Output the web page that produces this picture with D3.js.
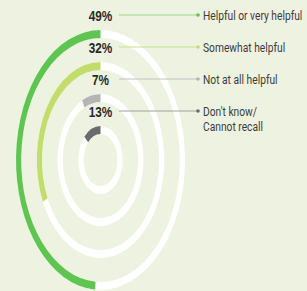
<!DOCTYPE html>
<html>
<head>
<meta charset="utf-8">
<script src="https://cdn.jsdelivr.net/npm/d3@7"></script>
<style>
  body { margin: 0; background: #edf3e0; }
  svg { display: block; }
</style>
</head>
<body>
<script>
// data
const categories = ['Helpful or very helpful', 'Somewhat helpful', 'Not at all helpful', "Don't know/\nCannot recall"];
const values = [49, 32, 7, 13];
const colors = ['#5ec550', '#c3dc6c', '#b5b5b5', '#6b6b6b'];
const lineColors = ['#9ed68e', '#c9df86', '#c2c2c2', '#a0a0a0'];

const width = 307, height = 291;
const cx = 100.5, cy = 160;
const sx = 0.65; // rings are squashed horizontally
const condense = 0.76; // the original type is a condensed face

const svg = d3.select('body').append('svg')
  .attr('width', width)
  .attr('height', height);

svg.append('rect').attr('width', width).attr('height', height).attr('fill', '#edf3e0');

const r = d3.scaleLinear()
  .domain([0, categories.length - 1])
  .range([126, 30]);

const pct = d3.scaleLinear().domain([0, 100]).range([0, 2 * Math.PI]);

const rings = svg.append('g')
  .attr('transform', `translate(${cx},${cy}) scale(${sx},1)`);

const arc = d3.arc()
  .innerRadius(d => r(d.i) - 4)
  .outerRadius(d => r(d.i) + 4);

const data = values.map((v, i) => ({i, v}));

rings.selectAll('path.bg')
  .data(data)
  .enter().append('path')
  .attr('class', 'bg')
  .attr('fill', '#ffffff')
  .attr('d', d => arc({i: d.i, startAngle: 0, endAngle: 2 * Math.PI}));

rings.selectAll('path.fg')
  .data(data)
  .enter().append('path')
  .attr('class', 'fg')
  .attr('fill', d => colors[d.i])
  .attr('d', d => arc({i: d.i, startAngle: -pct(d.v), endAngle: 0}));

// percentage labels + leader lines
const labelY = d => cy - r(d.i) - 18;

svg.selectAll('line.lead')
  .data(data)
  .enter().append('line')
  .attr('x1', 119).attr('x2', 197)
  .attr('y1', d => labelY(d) - 1)
  .attr('y2', d => labelY(d) - 1)
  .attr('stroke', d => lineColors[d.i])
  .attr('stroke-width', 1);

svg.selectAll('circle.dot')
  .data(data)
  .enter().append('circle')
  .attr('cx', 198).attr('cy', d => labelY(d) - 1)
  .attr('r', 1.8)
  .attr('fill', d => colors[d.i]);

svg.selectAll('text.pct')
  .data(data)
  .enter().append('text')
  .attr('transform', d => `translate(${cx},${labelY(d) + 5}) scale(${condense},1)`)
  .attr('text-anchor', 'middle')
  .style('font-family', '"Liberation Sans", Arial, sans-serif')
  .style('font-size', '15.5px')
  .style('font-weight', 'bold')
  .style('fill', '#2a2a2a')
  .text(d => d.v + '%');

const legend = svg.selectAll('text.leg')
  .data(data)
  .enter().append('text')
  .attr('transform', d => `translate(203,${labelY(d) + 4}) scale(${condense},1)`)
  .style('font-family', 'Roboto, "Liberation Sans", sans-serif')
  .style('font-size', '13.5px')
  .style('fill', '#3c3c3c');

legend.selectAll('tspan')
  .data(d => categories[d.i].split('\n'))
  .enter().append('tspan')
  .attr('x', 0)
  .attr('dy', (t, j) => j === 0 ? 0 : 15)
  .text(t => t);
</script>
</body>
</html>
